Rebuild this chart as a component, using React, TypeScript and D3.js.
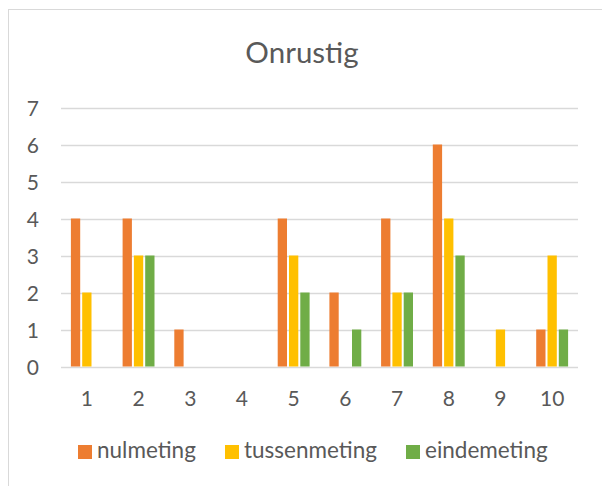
import React, { useEffect, useRef } from 'react';
import * as d3 from 'd3';

const categories = ['1', '2', '3', '4', '5', '6', '7', '8', '9', '10'];
const seriesNames = ['nulmeting', 'tussenmeting', 'eindemeting'];
const nulmeting = [4, 4, 1, 0, 4, 2, 4, 6, 0, 1];
const tussenmeting = [2, 3, 0, 0, 3, 0, 2, 4, 1, 3];
const eindemeting = [0, 3, 0, 0, 2, 1, 2, 3, 0, 1];
const yTicks = [0, 1, 2, 3, 4, 5, 6, 7];
const colors = ['#ED7D31', '#FFC000', '#70AD47'];

const App: React.FC = () => {
  const svgRef = useRef<SVGSVGElement>(null);

  useEffect(() => {
    if (!svgRef.current) return;
    const svg = d3.select(svgRef.current);
    svg.selectAll('*').remove();

    const font = "Lato, 'Open Sans', sans-serif";
    const ink = '#595959';
    const values = [nulmeting, tussenmeting, eindemeting];

    // chart border (cut off at right and bottom)
    svg.append('rect')
      .attr('x', 8.5)
      .attr('y', 9.5)
      .attr('width', 620)
      .attr('height', 500)
      .attr('fill', '#fff')
      .attr('stroke', '#D9D9D9')
      .attr('stroke-width', 1);

    const x = d3.scaleBand().domain(categories).range([61, 578]);
    const y = d3.scaleLinear().domain([0, 7]).range([366.5, 107.5]);

    const barW = 9.3;
    const gap = 2;
    const clusterW = barW * 3 + gap * 2;

    // grid lines
    svg.append('g')
      .selectAll('line')
      .data(yTicks)
      .enter()
      .append('line')
      .attr('x1', x.range()[0])
      .attr('x2', x.range()[1])
      .attr('y1', d => Math.round(y(d)) + 0.5)
      .attr('y2', d => Math.round(y(d)) + 0.5)
      .attr('stroke', '#D9D9D9')
      .attr('stroke-width', 1.5);

    // y labels
    svg.append('g')
      .selectAll('text')
      .data(yTicks)
      .enter()
      .append('text')
      .attr('x', 39)
      .attr('y', d => y(d) + 8)
      .attr('text-anchor', 'end')
      .attr('font-family', font)
      .attr('font-size', '21px')
      .attr('fill', ink)
      .text(d => d);

    // bars
    values.forEach((vals, si) => {
      svg.append('g')
        .selectAll('rect')
        .data(vals.map((v, i) => ({ v, c: categories[i] })).filter(d => d.v > 0))
        .enter()
        .append('rect')
        .attr('x', d => x(d.c)! + (x.bandwidth() - clusterW) / 2 + si * (barW + gap))
        .attr('y', d => y(d.v))
        .attr('width', barW)
        .attr('height', d => y(0) - y(d.v))
        .attr('fill', colors[si]);
    });

    // x labels
    svg.append('g')
      .selectAll('text')
      .data(categories)
      .enter()
      .append('text')
      .attr('x', d => x(d)! + x.bandwidth() / 2)
      .attr('y', 406)
      .attr('text-anchor', 'middle')
      .attr('font-family', font)
      .attr('font-size', '21px')
      .attr('fill', ink)
      .text(d => d);

    // title
    svg.append('text')
      .attr('x', 302)
      .attr('y', 63)
      .attr('text-anchor', 'middle')
      .attr('font-family', font)
      .attr('font-size', '29.5px')
      .attr('fill', ink)
      .text('Onrustig');

    // legend
    const legendX = [78, 225, 406];
    const legend = svg.append('g');
    seriesNames.forEach((name, i) => {
      legend.append('rect')
        .attr('x', legendX[i])
        .attr('y', 445)
        .attr('width', 14)
        .attr('height', 14)
        .attr('fill', colors[i]);
      legend.append('text')
        .attr('x', legendX[i] + 19)
        .attr('y', 458)
        .attr('font-family', font)
        .attr('font-size', '22.5px')
        .attr('fill', ink)
        .text(name);
    });
  }, []);

  return (
    <svg
      ref={svgRef}
      width={602}
      height={486}
      style={{ position: 'absolute', left: 0, top: 0, display: 'block' }}
    />
  );
};

export default App;
